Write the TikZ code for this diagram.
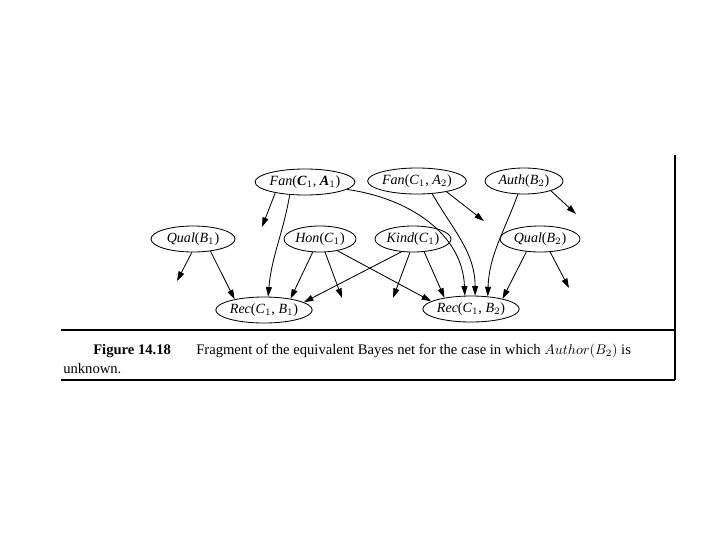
\documentclass[tikz,border=0pt]{standalone}
\usepackage{fontspec}
\setmainfont{Liberation Serif}
\usetikzlibrary{arrows.meta, shapes.geometric}

\begin{document}
\begin{tikzpicture}[x=0.025cm, y=-0.025cm,
        var/.style={ellipse, draw, line width=0.6pt, minimum height=0.65cm, inner sep=0pt},
        edge/.style={-{Triangle[length=2.4mm, width=1.5mm]}, line width=0.6pt},
        caption/.style={anchor=base west, inner sep=0pt, font=\fontsize{10.4}{12.5}\selectfont}]
    \useasboundingbox (0,0) rectangle (720,540);

    % Top row
    \node[var, minimum width=2.35cm] (fan1) at (305,182) {\textit{Fan}(\textbf{\textit{C}}$_1$, \textbf{\textit{A}}$_1$)};
    \node[var, minimum width=2.25cm] (fan2) at (417,181) {\textit{Fan}(\textit{C}$_1$, \textit{A}$_2$)};
    \node[var, minimum width=1.95cm] (auth) at (524,181) {\textit{Auth}(\textit{B}$_2$)};

    % Middle row
    \node[var, minimum width=2.1cm] (qual1) at (193,239) {\textit{Qual}(\textit{B}$_1$)};
    \node[var, minimum width=1.8cm] (hon) at (320,239) {\textit{Hon}(\textit{C}$_1$)};
    \node[var, minimum width=1.9cm] (kind) at (413,239) {\textit{Kind}(\textit{C}$_1$)};
    \node[var, minimum width=2.0cm] (qual2) at (540,239) {\textit{Qual}(\textit{B}$_2$)};

    % Bottom row
    \node[var, minimum width=2.4cm] (rec1) at (264,310) {\textit{Rec}(\textit{C}$_1$, \textit{B}$_1$)};
    \node[var, minimum width=2.4cm] (rec2) at (471,309) {\textit{Rec}(\textit{C}$_1$, \textit{B}$_2$)};

    % Free ends of the cut-off arrows
    \coordinate (fan1free) at (262,227);
    \coordinate (fan2free) at (484,221);
    \coordinate (authfree) at (576,214);
    \coordinate (qual1free) at (177,281);
    \coordinate (honfree) at (342,298);
    \coordinate (kindfree) at (393,298);
    \coordinate (qual2free) at (569,288);

    % Straight arrows
    \foreach \a/\b in {fan1.-160/fan1free, fan2.-20/fan2free, auth.-20/authfree,
                       qual1.-95/qual1free, qual1.-35/rec1.160,
                       hon.-119/rec1.23, hon.-69/honfree, hon.-34/rec2.169,
                       kind.-132/rec1.11, kind.-103/kindfree, kind.-49/rec2.157,
                       qual2.-137/rec2.18, qual2.-52/qual2free} {
        \draw[edge] (\a) -- (\b);
    }

    % Curved arrows
    \draw[edge] (fan1.-140) to[out=-100, in=85] (rec1.73);
    \draw[edge] (fan1.-10) to[out=-8, in=92] (rec2.115);
    \draw[edge] (fan2.-40) to[out=-60, in=90] (rec2.73);
    \draw[edge] (auth.-115) to[out=-110, in=88] (rec2.37);

    % Frame and caption
    \draw[line width=1pt] (675,155) -- (675,380);
    \draw[line width=1pt] (61,330) -- (675,330);
    \draw[line width=1pt] (61,380) -- (675,380);
    \node[caption, font=\fontsize{10.4}{12.5}\selectfont\bfseries] (fig) at (93,354) {Figure 14.18};
    \node[caption] (capA) at (196,354) {Fragment of the equivalent Bayes net for the case in which $Author(B_2)$ is};
    \node[caption] (capB) at (63,373) {unknown.};
\end{tikzpicture}
\end{document}
